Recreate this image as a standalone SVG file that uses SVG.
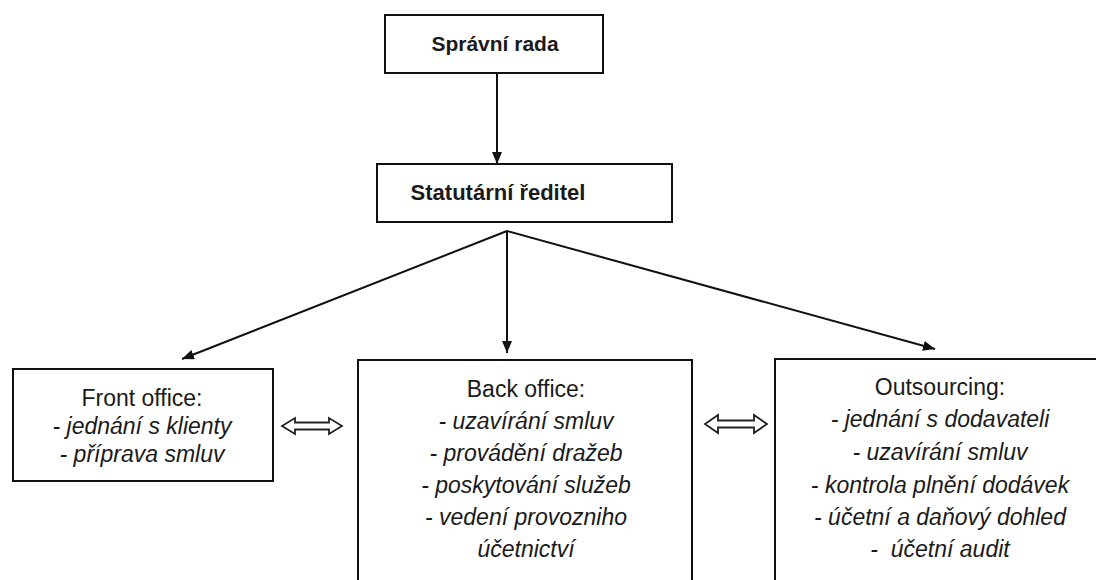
<svg xmlns="http://www.w3.org/2000/svg" width="1096" height="580" viewBox="0 0 1096 580">
  <defs>
    <marker id="ah" markerUnits="userSpaceOnUse" markerWidth="12" markerHeight="10" refX="12" refY="5" orient="auto">
      <path d="M0,0 L12,5 L0,10 Z" fill="#111"/>
    </marker>
    <style>
      .box { fill: #fff; stroke: #111; stroke-width: 2; }
      .conn { fill: none; stroke: #111; stroke-width: 2; }
      .dbl { fill: #fff; stroke: #222; stroke-width: 1.8; stroke-linejoin: miter; }
      .head { font-family: "Liberation Sans", Arial, sans-serif; font-weight: bold; font-size: 21px; fill: #1a1a1a; text-anchor: middle; }
      .big { font-size: 22px; }
      .t { font-family: "Liberation Sans", Arial, sans-serif; font-size: 23px; fill: #1a1a1a; text-anchor: middle; white-space: pre; }
      .i { font-style: italic; }
    </style>
  </defs>
  <rect width="1096" height="580" fill="#fff"/>

  <g id="connectors">
    <line class="conn" x1="497" y1="73" x2="497" y2="164" marker-end="url(#ah)"/>
    <line class="conn" x1="507" y1="231" x2="182" y2="359" marker-end="url(#ah)"/>
    <line class="conn" x1="507" y1="231" x2="507" y2="353" marker-end="url(#ah)"/>
    <line class="conn" x1="507" y1="231" x2="935" y2="349" marker-end="url(#ah)"/>
    <path class="dbl" d="M282,426 L295,418 L295,422.5 L329,422.5 L329,418 L342,426 L329,434 L329,429.5 L295,429.5 L295,434 Z"/>
    <path class="dbl" d="M705,424 L718,415 L718,420.5 L754,420.5 L754,415 L767,424 L754,433 L754,427.5 L718,427.5 L718,433 Z"/>
  </g>

  <g id="spravni-rada">
    <rect class="box" x="385" y="15" width="218" height="58"/>
    <text class="head" x="495" y="51">Správní rada</text>
  </g>

  <g id="statutarni-reditel">
    <rect class="box" x="377" y="164" width="295" height="58"/>
    <text class="head big" x="498" y="200">Statutární ředitel</text>
  </g>

  <g id="front-office">
    <rect class="box" x="13" y="369" width="260" height="112"/>
    <text class="t" x="142" y="406">Front office:</text>
    <text class="t i" x="142" y="434">- jednání s klienty</text>
    <text class="t i" x="142" y="462">- příprava smluv</text>
  </g>

  <g id="back-office">
    <rect class="box" x="358" y="360" width="334" height="240"/>
    <text class="t" x="526" y="397">Back office:</text>
    <text class="t i" x="526" y="429">- uzavírání smluv</text>
    <text class="t i" x="526" y="461">- provádění dražeb</text>
    <text class="t i" x="526" y="493">- poskytování služeb</text>
    <text class="t i" x="526" y="525">- vedení provozniho</text>
    <text class="t i" x="526" y="557">účetnictví</text>
  </g>

  <g id="outsourcing">
    <rect class="box" x="775" y="359" width="340" height="240"/>
    <text class="t" x="940" y="395">Outsourcing:</text>
    <text class="t i" x="940" y="427">- jednání s dodavateli</text>
    <text class="t i" x="940" y="460">- uzavírání smluv</text>
    <text class="t i" x="940" y="493">- kontrola plnění dodávek</text>
    <text class="t i" x="940" y="525">- účetní a daňový dohled</text>
    <text class="t i" x="940" y="557">-  účetní audit</text>
  </g>
</svg>
